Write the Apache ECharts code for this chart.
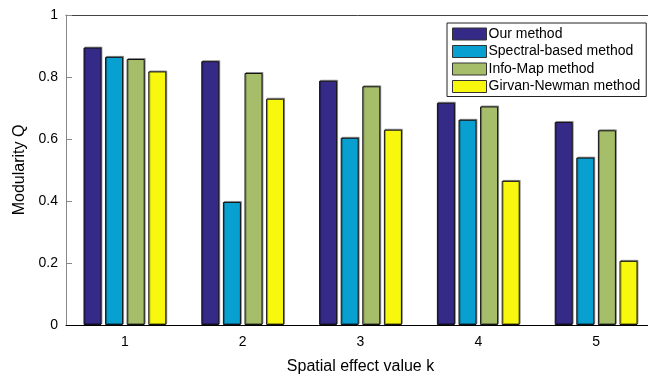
<!DOCTYPE html>
<html>
<head>
<meta charset="utf-8">
<script src="https://cdn.jsdelivr.net/npm/echarts@6/dist/echarts.min.js"></script>
<style>
  html, body { margin: 0; padding: 0; background: #fff; }
  #main { width: 648px; height: 377px; }
</style>
</head>
<body>
<div id="main"></div>
<script>
// data
var categories = ['1', '2', '3', '4', '5'];
var seriesNames = ['Our method', 'Spectral-based method', 'Info-Map method', 'Girvan-Newman method'];
var ourMethod = [0.895, 0.851, 0.788, 0.717, 0.655];
var spectral = [0.865, 0.397, 0.604, 0.662, 0.540];
var infoMap = [0.858, 0.813, 0.770, 0.705, 0.628];
var girvanNewman = [0.818, 0.730, 0.630, 0.465, 0.207];
var colors = ['#352a87', '#089fd1', '#a6be6a', '#f8f70e'];

var myChart = echarts.init(document.getElementById('main'));
var font = 'Liberation Sans, Arial, sans-serif';

var allData = [ourMethod, spectral, infoMap, girvanNewman];
var series = allData.map(function (d, i) {
  return {
    name: seriesNames[i],
    type: 'bar',
    data: d,
    barWidth: 18,
    barGap: '20%',
    itemStyle: {
      color: colors[i],
      borderColor: '#111',
      borderWidth: 1,
      shadowColor: 'rgba(0,0,0,0.35)',
      shadowOffsetX: 1,
      shadowOffsetY: -1
    }
  };
});

myChart.setOption({
  animation: false,
  textStyle: { fontFamily: font },
  // plot area runs a little past the right edge of the canvas
  grid: { left: 66, top: 15, height: 310, width: 589, outerBoundsMode: 'none', containLabel: false },
  legend: {
    orient: 'vertical',
    left: 447,
    top: 23,
    itemWidth: 34,
    itemHeight: 12,
    itemGap: 3.5,
    padding: [4, 6, 3, 5],
    icon: 'rect',
    backgroundColor: '#fff',
    borderColor: '#222',
    borderWidth: 1,
    borderRadius: 0,
    data: seriesNames,
    itemStyle: { borderColor: '#333', borderWidth: 1 },
    textStyle: { fontSize: 14, color: '#000', padding: [0, 0, 0, -3], fontFamily: font }
  },
  xAxis: [{
    type: 'category',
    data: categories,
    name: 'Spatial effect value k',
    nameLocation: 'middle',
    nameGap: 34,
    nameTextStyle: { fontSize: 16, color: '#000' },
    axisLine: { lineStyle: { color: '#000', width: 1 } },
    axisTick: { alignWithLabel: true, inside: true, length: 5, lineStyle: { color: '#777' } },
    axisLabel: { fontSize: 14, color: '#000', margin: 10 },
    z: 10
  }, {
    type: 'category',
    data: categories,
    position: 'top',
    axisLine: { lineStyle: { color: '#444', width: 1 } },
    axisTick: { alignWithLabel: true, inside: true, length: 5, lineStyle: { color: '#444' } },
    axisLabel: { show: false }
  }],
  yAxis: {
    type: 'value',
    min: 0,
    max: 1,
    interval: 0.2,
    name: 'Modularity Q',
    nameLocation: 'middle',
    nameGap: 38,
    nameTextStyle: { fontSize: 16, color: '#000' },
    axisLine: { show: true, lineStyle: { color: '#888', width: 1 } },
    axisTick: { show: true, inside: true, length: 6, lineStyle: { color: '#888' } },
    axisLabel: { fontSize: 14, color: '#000', margin: 8 },
    splitLine: { show: false }
  },
  series: series
});
</script>
</body>
</html>
